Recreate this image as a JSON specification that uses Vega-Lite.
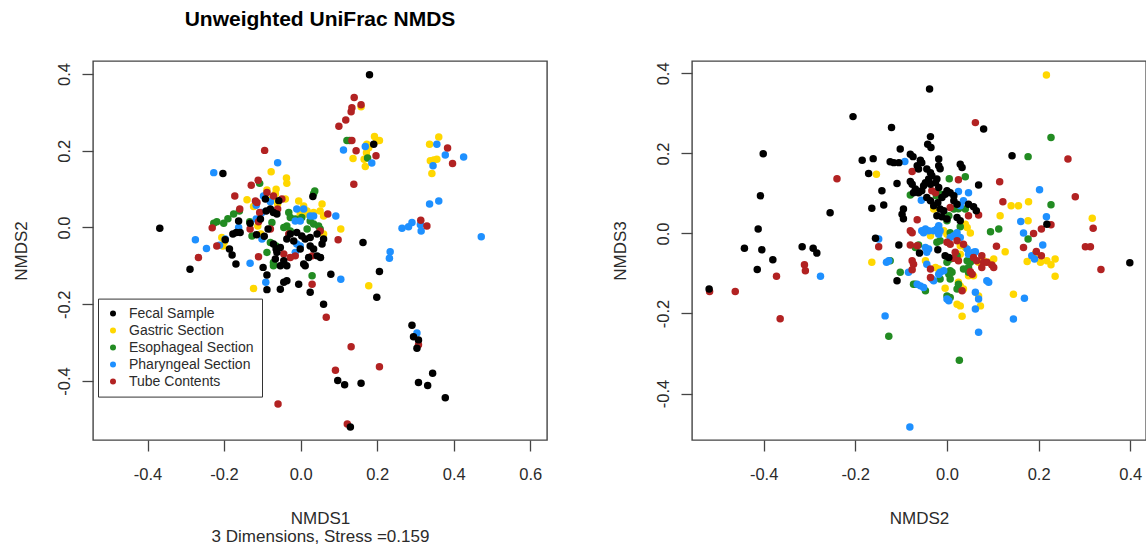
{
  "$schema": "https://vega.github.io/schema/vega-lite/v6.json",
  "background": "white",
  "padding": {"left": 11, "top": 8, "right": 0, "bottom": 0},
  "bounds": "flush",
  "spacing": 145,
  "config": {
    "font": "Liberation Sans",
    "view": {"stroke": "#444444", "strokeWidth": 1.4},
    "axis": {
      "grid": false,
      "domain": false,
      "tickColor": "#444444",
      "tickSize": 11,
      "tickWidth": 1.3,
      "labelFontSize": 16.5,
      "labelColor": "#2b2b2b",
      "labelFlush": false,
      "labelOverlap": false,
      "titleFontSize": 17,
      "titleFontWeight": "normal",
      "titleColor": "#2b2b2b"
    },
    "axisX": {"labelPadding": 15, "titlePadding": 28, "titleLineHeight": 17.5},
    "axisY": {"labelAngle": 270, "labelAlign": "center", "labelBaseline": "bottom", "labelPadding": 10, "titlePadding": 26}
  },
  "resolve": {"scale": {"color": "independent"}, "legend": {"color": "independent"}},
  "datasets": {
    "left": [
      {"group":"Gastric Section","x":0.158,"y":0.315},{"group":"Gastric Section","x":0.137,"y":0.180},{"group":"Gastric Section","x":0.173,"y":0.217},{"group":"Gastric Section","x":0.178,"y":0.208},{"group":"Gastric Section","x":0.172,"y":0.195},{"group":"Gastric Section","x":0.166,"y":0.178},{"group":"Gastric Section","x":0.169,"y":0.159},{"group":"Gastric Section","x":0.193,"y":0.237},{"group":"Gastric Section","x":0.206,"y":0.227},{"group":"Gastric Section","x":0.199,"y":0.226},{"group":"Gastric Section","x":0.337,"y":0.217},{"group":"Gastric Section","x":0.361,"y":0.236},{"group":"Gastric Section","x":0.339,"y":0.174},{"group":"Gastric Section","x":0.348,"y":0.176},{"group":"Gastric Section","x":0.343,"y":0.141},{"group":"Gastric Section","x":0.356,"y":0.178},{"group":"Gastric Section","x":0.178,"y":-0.152},{"group":"Gastric Section","x":0.105,"y":-0.004},{"group":"Gastric Section","x":-0.077,"y":0.145},{"group":"Gastric Section","x":-0.037,"y":0.129},{"group":"Gastric Section","x":-0.036,"y":0.115},{"group":"Gastric Section","x":-0.140,"y":0.072},{"group":"Gastric Section","x":-0.123,"y":0.055},{"group":"Gastric Section","x":-0.064,"y":0.100},{"group":"Gastric Section","x":-0.066,"y":0.087},{"group":"Gastric Section","x":-0.060,"y":0.061},{"group":"Gastric Section","x":-0.112,"y":0.004},{"group":"Gastric Section","x":-0.206,"y":-0.026},{"group":"Gastric Section","x":-0.199,"y":-0.037},{"group":"Gastric Section","x":-0.123,"y":-0.159},{"group":"Gastric Section","x":-0.005,"y":0.069},{"group":"Gastric Section","x":0.056,"y":0.061},{"group":"Gastric Section","x":0.051,"y":0.043},{"group":"Gastric Section","x":-0.001,"y":0.035},{"group":"Gastric Section","x":0.017,"y":0.035},{"group":"Gastric Section","x":0.034,"y":0.039},{"group":"Gastric Section","x":0.008,"y":0.056},{"group":"Gastric Section","x":0.017,"y":0.043},{"group":"Gastric Section","x":0.060,"y":0.030},{"group":"Gastric Section","x":-0.104,"y":-0.017},{"group":"Gastric Section","x":-0.088,"y":0.098},{"group":"Gastric Section","x":-0.075,"y":0.074},{"group":"Gastric Section","x":-0.040,"y":0.074},{"group":"Gastric Section","x":-0.203,"y":-0.048},{"group":"Gastric Section","x":0.060,"y":-0.017},
      {"group":"Esophageal Section","x":0.121,"y":0.227},{"group":"Esophageal Section","x":0.128,"y":0.227},{"group":"Esophageal Section","x":0.175,"y":0.181},{"group":"Esophageal Section","x":-0.107,"y":0.115},{"group":"Esophageal Section","x":-0.133,"y":0.015},{"group":"Esophageal Section","x":-0.127,"y":-0.022},{"group":"Esophageal Section","x":-0.227,"y":0.011},{"group":"Esophageal Section","x":-0.219,"y":0.015},{"group":"Esophageal Section","x":-0.201,"y":0.011},{"group":"Esophageal Section","x":-0.190,"y":0.023},{"group":"Esophageal Section","x":-0.175,"y":0.035},{"group":"Esophageal Section","x":-0.160,"y":0.043},{"group":"Esophageal Section","x":-0.088,"y":-0.065},{"group":"Esophageal Section","x":-0.064,"y":-0.048},{"group":"Esophageal Section","x":-0.071,"y":-0.100},{"group":"Esophageal Section","x":-0.079,"y":-0.039},{"group":"Esophageal Section","x":-0.031,"y":0.039},{"group":"Esophageal Section","x":-0.027,"y":0.026},{"group":"Esophageal Section","x":-0.014,"y":0.022},{"group":"Esophageal Section","x":0.003,"y":0.026},{"group":"Esophageal Section","x":0.025,"y":0.017},{"group":"Esophageal Section","x":0.034,"y":0.009},{"group":"Esophageal Section","x":0.047,"y":0.004},{"group":"Esophageal Section","x":0.051,"y":-0.004},{"group":"Esophageal Section","x":0.017,"y":-0.004},{"group":"Esophageal Section","x":-0.036,"y":0.004},{"group":"Esophageal Section","x":-0.044,"y":0.000},{"group":"Esophageal Section","x":-0.027,"y":-0.009},{"group":"Esophageal Section","x":-0.071,"y":-0.091},{"group":"Esophageal Section","x":-0.062,"y":-0.056},{"group":"Esophageal Section","x":0.030,"y":-0.126},{"group":"Esophageal Section","x":0.037,"y":0.095},{"group":"Esophageal Section","x":0.034,"y":0.088},{"group":"Esophageal Section","x":-0.075,"y":0.013},
      {"group":"Pharyngeal Section","x":0.112,"y":0.202},{"group":"Pharyngeal Section","x":0.169,"y":0.211},{"group":"Pharyngeal Section","x":0.186,"y":0.168},{"group":"Pharyngeal Section","x":0.356,"y":0.217},{"group":"Pharyngeal Section","x":0.378,"y":0.189},{"group":"Pharyngeal Section","x":0.426,"y":0.184},{"group":"Pharyngeal Section","x":0.346,"y":0.161},{"group":"Pharyngeal Section","x":0.337,"y":0.061},{"group":"Pharyngeal Section","x":0.361,"y":0.069},{"group":"Pharyngeal Section","x":0.265,"y":-0.002},{"group":"Pharyngeal Section","x":0.282,"y":0.002},{"group":"Pharyngeal Section","x":0.291,"y":0.013},{"group":"Pharyngeal Section","x":0.313,"y":0.007},{"group":"Pharyngeal Section","x":0.315,"y":-0.009},{"group":"Pharyngeal Section","x":0.472,"y":-0.024},{"group":"Pharyngeal Section","x":0.234,"y":-0.063},{"group":"Pharyngeal Section","x":0.232,"y":-0.080},{"group":"Pharyngeal Section","x":0.105,"y":-0.135},{"group":"Pharyngeal Section","x":0.092,"y":0.030},{"group":"Pharyngeal Section","x":0.304,"y":-0.275},{"group":"Pharyngeal Section","x":-0.060,"y":0.169},{"group":"Pharyngeal Section","x":-0.227,"y":0.143},{"group":"Pharyngeal Section","x":-0.275,"y":-0.032},{"group":"Pharyngeal Section","x":-0.246,"y":-0.055},{"group":"Pharyngeal Section","x":-0.212,"y":-0.046},{"group":"Pharyngeal Section","x":-0.197,"y":-0.030},{"group":"Pharyngeal Section","x":-0.162,"y":0.000},{"group":"Pharyngeal Section","x":-0.132,"y":-0.093},{"group":"Pharyngeal Section","x":-0.091,"y":-0.143},{"group":"Pharyngeal Section","x":-0.116,"y":0.058},{"group":"Pharyngeal Section","x":-0.079,"y":0.067},{"group":"Pharyngeal Section","x":-0.101,"y":0.039},{"group":"Pharyngeal Section","x":-0.116,"y":0.022},{"group":"Pharyngeal Section","x":-0.101,"y":-0.030},{"group":"Pharyngeal Section","x":-0.010,"y":0.048},{"group":"Pharyngeal Section","x":0.008,"y":0.048},{"group":"Pharyngeal Section","x":0.025,"y":0.030},{"group":"Pharyngeal Section","x":0.034,"y":0.030},{"group":"Pharyngeal Section","x":-0.001,"y":0.017},{"group":"Pharyngeal Section","x":-0.014,"y":0.017},{"group":"Pharyngeal Section","x":-0.001,"y":-0.048},{"group":"Pharyngeal Section","x":-0.010,"y":-0.043},{"group":"Pharyngeal Section","x":-0.014,"y":-0.065},{"group":"Pharyngeal Section","x":-0.097,"y":0.082},
      {"group":"Tube Contents","x":0.140,"y":0.339},{"group":"Tube Contents","x":0.158,"y":0.320},{"group":"Tube Contents","x":0.134,"y":0.312},{"group":"Tube Contents","x":0.132,"y":0.302},{"group":"Tube Contents","x":0.118,"y":0.280},{"group":"Tube Contents","x":0.100,"y":0.264},{"group":"Tube Contents","x":0.139,"y":0.113},{"group":"Tube Contents","x":0.134,"y":0.227},{"group":"Tube Contents","x":0.145,"y":0.200},{"group":"Tube Contents","x":0.197,"y":0.187},{"group":"Tube Contents","x":0.384,"y":0.207},{"group":"Tube Contents","x":0.397,"y":0.167},{"group":"Tube Contents","x":0.314,"y":0.019},{"group":"Tube Contents","x":0.330,"y":0.004},{"group":"Tube Contents","x":0.308,"y":-0.306},{"group":"Tube Contents","x":0.132,"y":-0.311},{"group":"Tube Contents","x":0.091,"y":-0.372},{"group":"Tube Contents","x":0.206,"y":-0.363},{"group":"Tube Contents","x":-0.059,"y":-0.460},{"group":"Tube Contents","x":0.122,"y":-0.512},{"group":"Tube Contents","x":0.067,"y":-0.234},{"group":"Tube Contents","x":0.098,"y":-0.032},{"group":"Tube Contents","x":0.071,"y":0.035},{"group":"Tube Contents","x":-0.094,"y":0.201},{"group":"Tube Contents","x":-0.129,"y":0.110},{"group":"Tube Contents","x":-0.111,"y":0.123},{"group":"Tube Contents","x":-0.172,"y":0.082},{"group":"Tube Contents","x":-0.159,"y":0.048},{"group":"Tube Contents","x":-0.118,"y":0.069},{"group":"Tube Contents","x":-0.114,"y":0.065},{"group":"Tube Contents","x":-0.088,"y":0.091},{"group":"Tube Contents","x":-0.107,"y":0.039},{"group":"Tube Contents","x":-0.110,"y":0.015},{"group":"Tube Contents","x":-0.132,"y":-0.004},{"group":"Tube Contents","x":-0.231,"y":-0.001},{"group":"Tube Contents","x":-0.267,"y":-0.078},{"group":"Tube Contents","x":-0.219,"y":-0.048},{"group":"Tube Contents","x":-0.110,"y":-0.076},{"group":"Tube Contents","x":-0.079,"y":-0.004},{"group":"Tube Contents","x":-0.060,"y":0.048},{"group":"Tube Contents","x":-0.071,"y":0.082},{"group":"Tube Contents","x":-0.049,"y":0.074},{"group":"Tube Contents","x":-0.014,"y":-0.074},{"group":"Tube Contents","x":-0.027,"y":-0.078},{"group":"Tube Contents","x":0.030,"y":-0.074},{"group":"Tube Contents","x":-0.044,"y":-0.069},{"group":"Tube Contents","x":-0.031,"y":-0.017},{"group":"Tube Contents","x":0.030,"y":-0.148},{"group":"Tube Contents","x":0.051,"y":-0.009},
      {"group":"Fecal Sample","x":0.180,"y":0.398},{"group":"Fecal Sample","x":0.191,"y":0.217},{"group":"Fecal Sample","x":-0.203,"y":0.141},{"group":"Fecal Sample","x":-0.368,"y":-0.002},{"group":"Fecal Sample","x":-0.289,"y":-0.109},{"group":"Fecal Sample","x":0.163,"y":-0.039},{"group":"Fecal Sample","x":0.206,"y":-0.115},{"group":"Fecal Sample","x":0.199,"y":-0.182},{"group":"Fecal Sample","x":0.079,"y":-0.122},{"group":"Fecal Sample","x":0.060,"y":-0.200},{"group":"Fecal Sample","x":0.291,"y":-0.255},{"group":"Fecal Sample","x":0.295,"y":-0.285},{"group":"Fecal Sample","x":0.308,"y":-0.293},{"group":"Fecal Sample","x":0.304,"y":-0.315},{"group":"Fecal Sample","x":0.097,"y":-0.399},{"group":"Fecal Sample","x":0.115,"y":-0.410},{"group":"Fecal Sample","x":0.158,"y":-0.406},{"group":"Fecal Sample","x":0.308,"y":-0.404},{"group":"Fecal Sample","x":0.332,"y":-0.412},{"group":"Fecal Sample","x":0.345,"y":-0.380},{"group":"Fecal Sample","x":0.378,"y":-0.444},{"group":"Fecal Sample","x":0.130,"y":-0.520},{"group":"Fecal Sample","x":0.025,"y":-0.169},{"group":"Fecal Sample","x":-0.005,"y":-0.148},{"group":"Fecal Sample","x":-0.088,"y":-0.162},{"group":"Fecal Sample","x":-0.053,"y":-0.161},{"group":"Fecal Sample","x":-0.044,"y":-0.143},{"group":"Fecal Sample","x":-0.036,"y":-0.139},{"group":"Fecal Sample","x":0.032,"y":0.081},{"group":"Fecal Sample","x":-0.092,"y":0.074},{"group":"Fecal Sample","x":-0.079,"y":0.048},{"group":"Fecal Sample","x":-0.090,"y":0.043},{"group":"Fecal Sample","x":-0.105,"y":0.022},{"group":"Fecal Sample","x":-0.132,"y":0.011},{"group":"Fecal Sample","x":-0.158,"y":-0.013},{"group":"Fecal Sample","x":-0.168,"y":-0.013},{"group":"Fecal Sample","x":-0.177,"y":-0.017},{"group":"Fecal Sample","x":-0.162,"y":0.017},{"group":"Fecal Sample","x":-0.197,"y":-0.032},{"group":"Fecal Sample","x":-0.186,"y":-0.056},{"group":"Fecal Sample","x":-0.179,"y":-0.072},{"group":"Fecal Sample","x":-0.169,"y":-0.095},{"group":"Fecal Sample","x":-0.098,"y":-0.104},{"group":"Fecal Sample","x":-0.088,"y":-0.124},{"group":"Fecal Sample","x":-0.064,"y":-0.056},{"group":"Fecal Sample","x":-0.066,"y":-0.082},{"group":"Fecal Sample","x":-0.095,"y":-0.023},{"group":"Fecal Sample","x":-0.071,"y":0.039},{"group":"Fecal Sample","x":-0.027,"y":-0.017},{"group":"Fecal Sample","x":-0.010,"y":-0.013},{"group":"Fecal Sample","x":0.003,"y":-0.022},{"group":"Fecal Sample","x":0.012,"y":-0.030},{"group":"Fecal Sample","x":0.025,"y":-0.026},{"group":"Fecal Sample","x":0.043,"y":-0.017},{"group":"Fecal Sample","x":0.060,"y":-0.030},{"group":"Fecal Sample","x":0.056,"y":-0.043},{"group":"Fecal Sample","x":0.025,"y":-0.048},{"group":"Fecal Sample","x":0.034,"y":-0.056},{"group":"Fecal Sample","x":0.043,"y":-0.074},{"group":"Fecal Sample","x":0.052,"y":-0.078},{"group":"Fecal Sample","x":0.021,"y":-0.078},{"group":"Fecal Sample","x":-0.001,"y":-0.056},{"group":"Fecal Sample","x":-0.018,"y":-0.035},{"group":"Fecal Sample","x":-0.036,"y":-0.030},{"group":"Fecal Sample","x":-0.053,"y":-0.052},{"group":"Fecal Sample","x":-0.062,"y":-0.065},{"group":"Fecal Sample","x":-0.071,"y":-0.043},{"group":"Fecal Sample","x":-0.044,"y":-0.087},{"group":"Fecal Sample","x":-0.036,"y":-0.100},{"group":"Fecal Sample","x":-0.053,"y":-0.100},{"group":"Fecal Sample","x":0.008,"y":-0.095},{"group":"Fecal Sample","x":0.012,"y":-0.100},{"group":"Fecal Sample","x":-0.115,"y":-0.019},{"group":"Fecal Sample","x":-0.085,"y":-0.004},{"group":"Fecal Sample","x":-0.057,"y":0.070},{"group":"Fecal Sample","x":-0.062,"y":0.035}
    ],
    "right": [
      {"group":"Gastric Section","x":0.217,"y":0.396},{"group":"Gastric Section","x":-0.154,"y":0.148},{"group":"Gastric Section","x":-0.164,"y":-0.072},{"group":"Gastric Section","x":0.140,"y":0.069},{"group":"Gastric Section","x":0.156,"y":0.069},{"group":"Gastric Section","x":0.178,"y":0.079},{"group":"Gastric Section","x":0.116,"y":0.044},{"group":"Gastric Section","x":0.177,"y":0.032},{"group":"Gastric Section","x":0.317,"y":0.038},{"group":"Gastric Section","x":0.127,"y":-0.046},{"group":"Gastric Section","x":0.175,"y":-0.070},{"group":"Gastric Section","x":0.204,"y":-0.072},{"group":"Gastric Section","x":0.218,"y":-0.068},{"group":"Gastric Section","x":0.227,"y":-0.078},{"group":"Gastric Section","x":0.236,"y":-0.064},{"group":"Gastric Section","x":0.236,"y":-0.107},{"group":"Gastric Section","x":0.193,"y":-0.050},{"group":"Gastric Section","x":0.145,"y":-0.152},{"group":"Gastric Section","x":0.102,"y":-0.064},{"group":"Gastric Section","x":-0.029,"y":0.061},{"group":"Gastric Section","x":0.040,"y":0.023},{"group":"Gastric Section","x":0.044,"y":0.015},{"group":"Gastric Section","x":-0.036,"y":-0.006},{"group":"Gastric Section","x":0.000,"y":-0.002},{"group":"Gastric Section","x":-0.007,"y":0.007},{"group":"Gastric Section","x":0.051,"y":0.001},{"group":"Gastric Section","x":0.029,"y":-0.031},{"group":"Gastric Section","x":0.040,"y":-0.035},{"group":"Gastric Section","x":0.029,"y":-0.052},{"group":"Gastric Section","x":0.069,"y":-0.072},{"group":"Gastric Section","x":0.080,"y":-0.068},{"group":"Gastric Section","x":0.091,"y":-0.072},{"group":"Gastric Section","x":-0.047,"y":-0.068},{"group":"Gastric Section","x":-0.025,"y":-0.085},{"group":"Gastric Section","x":-0.018,"y":-0.089},{"group":"Gastric Section","x":0.047,"y":-0.106},{"group":"Gastric Section","x":0.058,"y":-0.106},{"group":"Gastric Section","x":0.029,"y":-0.131},{"group":"Gastric Section","x":0.036,"y":-0.139},{"group":"Gastric Section","x":0.025,"y":-0.122},{"group":"Gastric Section","x":-0.004,"y":-0.137},{"group":"Gastric Section","x":0.069,"y":-0.156},{"group":"Gastric Section","x":0.073,"y":-0.181},{"group":"Gastric Section","x":0.022,"y":-0.177},{"group":"Gastric Section","x":0.029,"y":-0.181},{"group":"Gastric Section","x":0.033,"y":-0.207},
      {"group":"Esophageal Section","x":0.227,"y":0.240},{"group":"Esophageal Section","x":0.177,"y":0.192},{"group":"Esophageal Section","x":0.227,"y":0.072},{"group":"Esophageal Section","x":0.177,"y":-0.014},{"group":"Esophageal Section","x":0.095,"y":0.004},{"group":"Esophageal Section","x":0.113,"y":0.011},{"group":"Esophageal Section","x":0.005,"y":0.137},{"group":"Esophageal Section","x":0.040,"y":0.142},{"group":"Esophageal Section","x":-0.080,"y":0.096},{"group":"Esophageal Section","x":-0.023,"y":0.094},{"group":"Esophageal Section","x":-0.013,"y":0.098},{"group":"Esophageal Section","x":0.015,"y":0.061},{"group":"Esophageal Section","x":0.025,"y":0.062},{"group":"Esophageal Section","x":0.040,"y":0.061},{"group":"Esophageal Section","x":0.004,"y":0.044},{"group":"Esophageal Section","x":0.000,"y":0.032},{"group":"Esophageal Section","x":0.029,"y":0.017},{"group":"Esophageal Section","x":0.007,"y":0.002},{"group":"Esophageal Section","x":-0.062,"y":-0.029},{"group":"Esophageal Section","x":-0.069,"y":-0.035},{"group":"Esophageal Section","x":-0.022,"y":-0.022},{"group":"Esophageal Section","x":-0.015,"y":-0.018},{"group":"Esophageal Section","x":0.022,"y":-0.056},{"group":"Esophageal Section","x":0.007,"y":-0.064},{"group":"Esophageal Section","x":0.000,"y":-0.072},{"group":"Esophageal Section","x":0.044,"y":-0.068},{"group":"Esophageal Section","x":0.051,"y":-0.072},{"group":"Esophageal Section","x":0.047,"y":-0.085},{"group":"Esophageal Section","x":0.036,"y":-0.089},{"group":"Esophageal Section","x":0.047,"y":-0.097},{"group":"Esophageal Section","x":-0.124,"y":-0.068},{"group":"Esophageal Section","x":-0.102,"y":-0.097},{"group":"Esophageal Section","x":-0.073,"y":-0.127},{"group":"Esophageal Section","x":-0.069,"y":-0.127},{"group":"Esophageal Section","x":-0.047,"y":-0.143},{"group":"Esophageal Section","x":0.007,"y":-0.093},{"group":"Esophageal Section","x":0.011,"y":-0.097},{"group":"Esophageal Section","x":0.004,"y":-0.102},{"group":"Esophageal Section","x":-0.015,"y":-0.114},{"group":"Esophageal Section","x":0.007,"y":-0.114},{"group":"Esophageal Section","x":0.022,"y":-0.139},{"group":"Esophageal Section","x":0.025,"y":-0.127},{"group":"Esophageal Section","x":0.000,"y":-0.156},{"group":"Esophageal Section","x":0.007,"y":-0.160},{"group":"Esophageal Section","x":-0.127,"y":-0.257},{"group":"Esophageal Section","x":0.027,"y":-0.317},
      {"group":"Pharyngeal Section","x":-0.081,"y":-0.484},{"group":"Pharyngeal Section","x":0.069,"y":-0.247},{"group":"Pharyngeal Section","x":0.145,"y":-0.214},{"group":"Pharyngeal Section","x":-0.135,"y":-0.206},{"group":"Pharyngeal Section","x":-0.276,"y":-0.107},{"group":"Pharyngeal Section","x":0.169,"y":-0.162},{"group":"Pharyngeal Section","x":0.062,"y":-0.189},{"group":"Pharyngeal Section","x":0.062,"y":-0.147},{"group":"Pharyngeal Section","x":0.069,"y":-0.164},{"group":"Pharyngeal Section","x":0.087,"y":-0.118},{"group":"Pharyngeal Section","x":0.091,"y":-0.122},{"group":"Pharyngeal Section","x":-0.092,"y":0.180},{"group":"Pharyngeal Section","x":0.202,"y":0.109},{"group":"Pharyngeal Section","x":0.217,"y":0.042},{"group":"Pharyngeal Section","x":0.161,"y":0.030},{"group":"Pharyngeal Section","x":0.167,"y":0.001},{"group":"Pharyngeal Section","x":0.209,"y":-0.029},{"group":"Pharyngeal Section","x":0.185,"y":-0.056},{"group":"Pharyngeal Section","x":0.191,"y":-0.064},{"group":"Pharyngeal Section","x":-0.149,"y":-0.014},{"group":"Pharyngeal Section","x":-0.132,"y":-0.072},{"group":"Pharyngeal Section","x":-0.127,"y":-0.068},{"group":"Pharyngeal Section","x":-0.056,"y":0.083},{"group":"Pharyngeal Section","x":0.025,"y":0.105},{"group":"Pharyngeal Section","x":0.047,"y":0.102},{"group":"Pharyngeal Section","x":0.036,"y":0.082},{"group":"Pharyngeal Section","x":0.029,"y":0.069},{"group":"Pharyngeal Section","x":-0.018,"y":0.019},{"group":"Pharyngeal Section","x":-0.022,"y":0.011},{"group":"Pharyngeal Section","x":-0.015,"y":0.007},{"group":"Pharyngeal Section","x":-0.047,"y":0.011},{"group":"Pharyngeal Section","x":-0.040,"y":0.007},{"group":"Pharyngeal Section","x":-0.055,"y":0.007},{"group":"Pharyngeal Section","x":-0.051,"y":0.002},{"group":"Pharyngeal Section","x":-0.029,"y":0.007},{"group":"Pharyngeal Section","x":-0.018,"y":-0.002},{"group":"Pharyngeal Section","x":-0.047,"y":-0.035},{"group":"Pharyngeal Section","x":-0.040,"y":-0.039},{"group":"Pharyngeal Section","x":-0.044,"y":-0.047},{"group":"Pharyngeal Section","x":0.007,"y":-0.010},{"group":"Pharyngeal Section","x":0.015,"y":-0.006},{"group":"Pharyngeal Section","x":0.029,"y":-0.010},{"group":"Pharyngeal Section","x":0.022,"y":0.002},{"group":"Pharyngeal Section","x":0.044,"y":-0.039},{"group":"Pharyngeal Section","x":0.047,"y":-0.052},{"group":"Pharyngeal Section","x":0.058,"y":-0.047},{"group":"Pharyngeal Section","x":0.062,"y":-0.046},{"group":"Pharyngeal Section","x":-0.044,"y":-0.077},{"group":"Pharyngeal Section","x":-0.007,"y":-0.093},{"group":"Pharyngeal Section","x":-0.015,"y":-0.097},{"group":"Pharyngeal Section","x":-0.018,"y":-0.102},{"group":"Pharyngeal Section","x":-0.033,"y":-0.114},{"group":"Pharyngeal Section","x":-0.029,"y":-0.118},{"group":"Pharyngeal Section","x":-0.084,"y":-0.097},{"group":"Pharyngeal Section","x":-0.065,"y":-0.127},{"group":"Pharyngeal Section","x":-0.058,"y":-0.131},{"group":"Pharyngeal Section","x":-0.051,"y":-0.135},{"group":"Pharyngeal Section","x":0.000,"y":-0.164},{"group":"Pharyngeal Section","x":0.004,"y":-0.168},
      {"group":"Tube Contents","x":-0.240,"y":0.137},{"group":"Tube Contents","x":0.062,"y":0.277},{"group":"Tube Contents","x":0.264,"y":0.186},{"group":"Tube Contents","x":0.280,"y":0.092},{"group":"Tube Contents","x":0.115,"y":0.129},{"group":"Tube Contents","x":0.122,"y":0.079},{"group":"Tube Contents","x":0.189,"y":0.000},{"group":"Tube Contents","x":0.206,"y":0.011},{"group":"Tube Contents","x":0.227,"y":0.022},{"group":"Tube Contents","x":0.167,"y":-0.035},{"group":"Tube Contents","x":0.195,"y":-0.045},{"group":"Tube Contents","x":0.206,"y":-0.056},{"group":"Tube Contents","x":0.108,"y":-0.032},{"group":"Tube Contents","x":0.302,"y":-0.033},{"group":"Tube Contents","x":0.313,"y":-0.033},{"group":"Tube Contents","x":0.319,"y":0.013},{"group":"Tube Contents","x":0.336,"y":-0.090},{"group":"Tube Contents","x":-0.518,"y":-0.145},{"group":"Tube Contents","x":-0.462,"y":-0.145},{"group":"Tube Contents","x":-0.364,"y":-0.213},{"group":"Tube Contents","x":-0.372,"y":-0.107},{"group":"Tube Contents","x":-0.311,"y":-0.078},{"group":"Tube Contents","x":-0.309,"y":-0.093},{"group":"Tube Contents","x":-0.149,"y":-0.033},{"group":"Tube Contents","x":-0.076,"y":0.155},{"group":"Tube Contents","x":0.025,"y":0.134},{"group":"Tube Contents","x":-0.033,"y":0.107},{"group":"Tube Contents","x":-0.025,"y":0.102},{"group":"Tube Contents","x":0.007,"y":0.065},{"group":"Tube Contents","x":0.047,"y":0.044},{"group":"Tube Contents","x":0.069,"y":0.046},{"group":"Tube Contents","x":-0.065,"y":0.034},{"group":"Tube Contents","x":-0.080,"y":0.007},{"group":"Tube Contents","x":-0.076,"y":0.002},{"group":"Tube Contents","x":-0.080,"y":-0.029},{"group":"Tube Contents","x":-0.065,"y":-0.031},{"group":"Tube Contents","x":0.000,"y":-0.022},{"group":"Tube Contents","x":0.007,"y":-0.027},{"group":"Tube Contents","x":0.022,"y":-0.018},{"group":"Tube Contents","x":0.036,"y":-0.027},{"group":"Tube Contents","x":0.018,"y":-0.047},{"group":"Tube Contents","x":0.015,"y":-0.062},{"group":"Tube Contents","x":0.025,"y":-0.068},{"group":"Tube Contents","x":0.058,"y":-0.060},{"group":"Tube Contents","x":0.065,"y":-0.068},{"group":"Tube Contents","x":0.076,"y":-0.056},{"group":"Tube Contents","x":0.080,"y":-0.072},{"group":"Tube Contents","x":0.076,"y":-0.085},{"group":"Tube Contents","x":0.087,"y":-0.072},{"group":"Tube Contents","x":0.098,"y":-0.079},{"group":"Tube Contents","x":0.102,"y":-0.085},{"group":"Tube Contents","x":0.051,"y":-0.096},{"group":"Tube Contents","x":0.055,"y":-0.102},{"group":"Tube Contents","x":-0.036,"y":-0.089},{"group":"Tube Contents","x":-0.036,"y":-0.110},{"group":"Tube Contents","x":-0.076,"y":-0.068},{"group":"Tube Contents","x":-0.073,"y":-0.077},{"group":"Tube Contents","x":-0.076,"y":-0.091},{"group":"Tube Contents","x":0.033,"y":-0.143},
      {"group":"Fecal Sample","x":-0.038,"y":0.361},{"group":"Fecal Sample","x":-0.205,"y":0.292},{"group":"Fecal Sample","x":-0.121,"y":0.265},{"group":"Fecal Sample","x":0.080,"y":0.261},{"group":"Fecal Sample","x":-0.036,"y":0.242},{"group":"Fecal Sample","x":-0.042,"y":0.223},{"group":"Fecal Sample","x":-0.035,"y":0.215},{"group":"Fecal Sample","x":-0.102,"y":0.211},{"group":"Fecal Sample","x":-0.080,"y":0.198},{"group":"Fecal Sample","x":-0.074,"y":0.192},{"group":"Fecal Sample","x":-0.401,"y":0.199},{"group":"Fecal Sample","x":-0.185,"y":0.183},{"group":"Fecal Sample","x":-0.161,"y":0.187},{"group":"Fecal Sample","x":-0.124,"y":0.179},{"group":"Fecal Sample","x":-0.116,"y":0.177},{"group":"Fecal Sample","x":-0.105,"y":0.177},{"group":"Fecal Sample","x":-0.058,"y":0.183},{"group":"Fecal Sample","x":-0.055,"y":0.177},{"group":"Fecal Sample","x":-0.018,"y":0.186},{"group":"Fecal Sample","x":0.142,"y":0.194},{"group":"Fecal Sample","x":-0.065,"y":0.169},{"group":"Fecal Sample","x":-0.062,"y":0.161},{"group":"Fecal Sample","x":-0.018,"y":0.169},{"group":"Fecal Sample","x":-0.015,"y":0.162},{"group":"Fecal Sample","x":-0.044,"y":0.161},{"group":"Fecal Sample","x":-0.036,"y":0.152},{"group":"Fecal Sample","x":-0.033,"y":0.144},{"group":"Fecal Sample","x":-0.040,"y":0.136},{"group":"Fecal Sample","x":-0.047,"y":0.127},{"group":"Fecal Sample","x":-0.051,"y":0.119},{"group":"Fecal Sample","x":-0.036,"y":0.123},{"group":"Fecal Sample","x":-0.171,"y":0.150},{"group":"Fecal Sample","x":-0.109,"y":0.125},{"group":"Fecal Sample","x":-0.080,"y":0.130},{"group":"Fecal Sample","x":-0.076,"y":0.123},{"group":"Fecal Sample","x":-0.069,"y":0.111},{"group":"Fecal Sample","x":-0.073,"y":0.102},{"group":"Fecal Sample","x":-0.062,"y":0.102},{"group":"Fecal Sample","x":-0.055,"y":0.107},{"group":"Fecal Sample","x":-0.142,"y":0.107},{"group":"Fecal Sample","x":-0.022,"y":0.136},{"group":"Fecal Sample","x":-0.025,"y":0.127},{"group":"Fecal Sample","x":-0.018,"y":0.115},{"group":"Fecal Sample","x":0.029,"y":0.173},{"group":"Fecal Sample","x":0.033,"y":0.165},{"group":"Fecal Sample","x":0.069,"y":0.121},{"group":"Fecal Sample","x":0.000,"y":0.107},{"group":"Fecal Sample","x":0.007,"y":0.102},{"group":"Fecal Sample","x":-0.004,"y":0.098},{"group":"Fecal Sample","x":-0.011,"y":0.090},{"group":"Fecal Sample","x":0.015,"y":0.094},{"group":"Fecal Sample","x":-0.044,"y":0.090},{"group":"Fecal Sample","x":-0.036,"y":0.082},{"group":"Fecal Sample","x":-0.029,"y":0.069},{"group":"Fecal Sample","x":-0.020,"y":0.077},{"group":"Fecal Sample","x":0.015,"y":0.082},{"group":"Fecal Sample","x":0.022,"y":0.073},{"group":"Fecal Sample","x":0.047,"y":0.073},{"group":"Fecal Sample","x":0.058,"y":0.067},{"group":"Fecal Sample","x":0.064,"y":0.057},{"group":"Fecal Sample","x":-0.015,"y":0.061},{"group":"Fecal Sample","x":-0.007,"y":0.057},{"group":"Fecal Sample","x":-0.164,"y":0.063},{"group":"Fecal Sample","x":-0.138,"y":0.071},{"group":"Fecal Sample","x":-0.095,"y":0.061},{"group":"Fecal Sample","x":-0.098,"y":0.048},{"group":"Fecal Sample","x":-0.095,"y":0.037},{"group":"Fecal Sample","x":-0.022,"y":0.044},{"group":"Fecal Sample","x":-0.011,"y":0.042},{"group":"Fecal Sample","x":0.000,"y":0.036},{"group":"Fecal Sample","x":0.022,"y":0.040},{"group":"Fecal Sample","x":0.029,"y":0.032},{"group":"Fecal Sample","x":-0.407,"y":0.094},{"group":"Fecal Sample","x":-0.255,"y":0.052},{"group":"Fecal Sample","x":-0.412,"y":0.011},{"group":"Fecal Sample","x":-0.442,"y":-0.037},{"group":"Fecal Sample","x":-0.404,"y":-0.041},{"group":"Fecal Sample","x":-0.380,"y":-0.066},{"group":"Fecal Sample","x":-0.414,"y":-0.090},{"group":"Fecal Sample","x":-0.316,"y":-0.033},{"group":"Fecal Sample","x":-0.292,"y":-0.037},{"group":"Fecal Sample","x":-0.284,"y":-0.049},{"group":"Fecal Sample","x":-0.519,"y":-0.139},{"group":"Fecal Sample","x":-0.156,"y":-0.012},{"group":"Fecal Sample","x":-0.105,"y":-0.029},{"group":"Fecal Sample","x":-0.060,"y":-0.049},{"group":"Fecal Sample","x":-0.020,"y":-0.041},{"group":"Fecal Sample","x":-0.004,"y":-0.056},{"group":"Fecal Sample","x":0.004,"y":-0.060},{"group":"Fecal Sample","x":-0.109,"y":-0.118},{"group":"Fecal Sample","x":0.399,"y":-0.073},{"group":"Fecal Sample","x":0.218,"y":0.023}
    ]
  },
  "hconcat": [
    {
      "width": 454,
      "height": 379,
      "title": {"text": "Unweighted UniFrac NMDS", "fontSize": 21, "fontWeight": "bold", "color": "#000000", "anchor": "middle", "baseline": "alphabetic", "offset": 14},
      "data": {"name": "left"},
      "mark": {"type": "point", "shape": "circle", "filled": true, "opacity": 1, "size": 56, "strokeWidth": 0},
      "encoding": {
        "x": {"field": "x", "type": "quantitative", "scale": {"domain": [-0.5425, 0.6438], "nice": false, "zero": false},
              "axis": {"title": ["NMDS1", "3 Dimensions, Stress =0.159"], "values": [-0.4, -0.2, 0, 0.2, 0.4, 0.6], "labelExpr": "replace(format(datum.value, '.1f'), '\u2212', '-')"}},
        "y": {"field": "y", "type": "quantitative", "scale": {"domain": [-0.554, 0.434], "nice": false, "zero": false},
              "axis": {"title": "NMDS2", "values": [-0.4, -0.2, 0, 0.2, 0.4], "labelExpr": "replace(format(datum.value, '.1f'), '\u2212', '-')"}},
        "color": {"field": "group", "type": "nominal",
                  "scale": {"domain": ["Fecal Sample", "Gastric Section", "Esophageal Section", "Pharyngeal Section", "Tube Contents"], "range": ["#000000", "#FFD700", "#228B22", "#1E90FF", "#B22222"]},
                  "legend": {"title": null, "orient": "none", "legendX": 5, "legendY": 237.6, "strokeColor": "#333333", "fillColor": "#ffffff", "padding": 8, "labelFontSize": 14, "labelColor": "#2b2b2b", "labelOffset": 9, "symbolType": "circle", "symbolSize": 36, "symbolStrokeWidth": 0, "rowPadding": 3}}
      }
    },
    {
      "width": 454,
      "height": 379,
      "data": {"name": "right"},
      "mark": {"type": "point", "shape": "circle", "filled": true, "opacity": 1, "size": 56, "strokeWidth": 0},
      "encoding": {
        "x": {"field": "x", "type": "quantitative", "scale": {"domain": [-0.5564, 0.4343], "nice": false, "zero": false},
              "axis": {"title": "NMDS2", "values": [-0.4, -0.2, 0, 0.2, 0.4], "labelExpr": "replace(format(datum.value, '.1f'), '\u2212', '-')"}},
        "y": {"field": "y", "type": "quantitative", "scale": {"domain": [-0.5162, 0.431], "nice": false, "zero": false},
              "axis": {"title": "NMDS3", "values": [-0.4, -0.2, 0, 0.2, 0.4], "labelExpr": "replace(format(datum.value, '.1f'), '\u2212', '-')"}},
        "color": {"field": "group", "type": "nominal",
                  "scale": {"domain": ["Fecal Sample", "Gastric Section", "Esophageal Section", "Pharyngeal Section", "Tube Contents"], "range": ["#000000", "#FFD700", "#228B22", "#1E90FF", "#B22222"]},
                  "legend": null}
      }
    }
  ]
}
